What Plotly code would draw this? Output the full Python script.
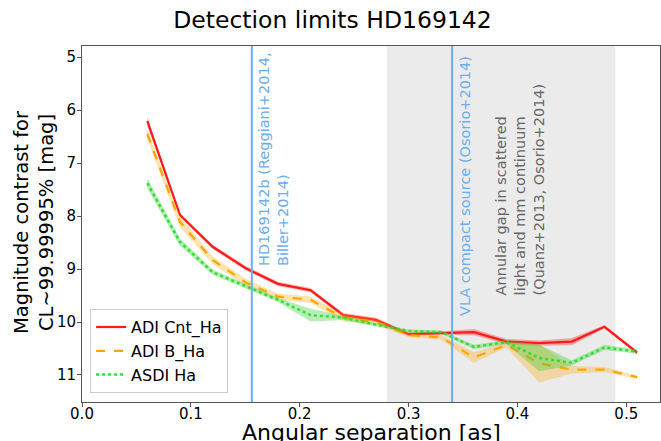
import plotly.graph_objects as go

# separation [as]
sep = [0.06, 0.09, 0.12, 0.15, 0.18, 0.21, 0.24, 0.27, 0.30, 0.33, 0.36, 0.39, 0.42, 0.45, 0.48, 0.51]

# contrast curves [mag] and half-width of the shaded bands
cnt_ha = [6.21, 7.98, 8.58, 8.98, 9.28, 9.40, 9.87, 9.96, 10.23, 10.21, 10.19, 10.37, 10.40, 10.37, 10.09, 10.58]
cnt_err = [0.08, 0.04, 0.04, 0.04, 0.04, 0.04, 0.04, 0.04, 0.03, 0.03, 0.06, 0.05, 0.05, 0.07, 0.03, 0.04]
b_ha = [6.45, 8.11, 8.83, 9.25, 9.52, 9.58, 9.92, 10.0, 10.25, 10.29, 10.67, 10.43, 10.78, 10.90, 10.90, 11.04]
b_err = [0.10, 0.10, 0.07, 0.07, 0.06, 0.06, 0.07, 0.05, 0.04, 0.04, 0.10, 0.05, 0.36, 0.07, 0.05, 0.03]
asdi_ha = [7.38, 8.49, 9.06, 9.32, 9.58, 9.87, 9.92, 10.05, 10.17, 10.19, 10.47, 10.38, 10.68, 10.77, 10.48, 10.56]
asdi_err = [0.10, 0.07, 0.05, 0.04, 0.04, 0.12, 0.04, 0.03, 0.03, 0.03, 0.04, 0.04, 0.25, 0.05, 0.05, 0.04]

planet_sep = 0.156
vla_sep = 0.34
gap = [0.28, 0.49]

series = [
    ("ADI Cnt_Ha", cnt_ha, cnt_err, "#ff1a1a", "solid", 2.2, "rgba(255,0,0,0.3)"),
    ("ADI B_Ha", b_ha, b_err, "#ffa500", "dash", 2.2, "rgba(255,165,0,0.3)"),
    ("ASDI Ha", asdi_ha, asdi_err, "#33dd33", "dot", 2.5, "rgba(50,205,50,0.35)"),
]

fig = go.Figure()

# gap region
fig.add_vrect(x0=gap[0], x1=gap[1], fillcolor="#ebebeb", line_width=0, layer="below")

for name, vals, err, col, dash, w, fill in series:
    lo = [v - e for v, e in zip(vals, err)]
    hi = [v + e for v, e in zip(vals, err)]
    fig.add_trace(go.Scatter(x=sep + sep[::-1], y=hi + lo[::-1], fill="toself",
                             fillcolor=fill, line=dict(width=0), mode="lines",
                             showlegend=False, hoverinfo="skip"))
    fig.add_trace(go.Scatter(x=sep, y=vals, mode="lines", name=name,
                             line=dict(color=col, dash=dash, width=w)))

blue = "#6aaef0"
for xv in (planet_sep, vla_sep):
    fig.add_vline(x=xv, line=dict(color=blue, width=2))

fig.add_annotation(x=planet_sep + 0.002, y=8.98, xref="x", yref="y",
                   text="HD169142b (Reggiani+2014,<br>Biller+2014)", textangle=-90,
                   xanchor="left", yanchor="bottom", align="left", showarrow=False,
                   font=dict(size=14.5, color=blue))
fig.add_annotation(x=vla_sep + 0.002, y=9.92, xref="x", yref="y",
                   text="VLA compact source (Osorio+2014)", textangle=-90,
                   xanchor="left", yanchor="bottom", align="left", showarrow=False,
                   font=dict(size=14.5, color=blue))
fig.add_annotation(x=0.376, y=9.53, xref="x", yref="y",
                   text="Annular gap in scattered<br>light and mm continuum<br>(Quanz+2013, Osorio+2014)",
                   textangle=-90, xanchor="left", yanchor="bottom", align="left", showarrow=False,
                   font=dict(size=14.5, color="#666666"))

# axis titles as annotations so they sit exactly where the original has them
fig.add_annotation(x=0.5, y=-0.087, xref="paper", yref="paper", text="Angular separation [as]",
                   xanchor="center", yanchor="middle", showarrow=False, font=dict(size=22))
fig.add_annotation(x=-0.084, y=0.507, xref="paper", yref="paper",
                   text="Magnitude contrast for<br>CL~99.99995% [mag]", textangle=-90,
                   xanchor="center", yanchor="middle", showarrow=False, font=dict(size=19.5))

axis_common = dict(showgrid=False, zeroline=False, showline=True, linecolor="#555555",
                   linewidth=1, mirror=True, ticks="outside", ticklen=4, tickcolor="#555555",
                   tickfont=dict(size=15, color="black"), automargin=False)

fig.update_layout(
    width=661, height=441,
    template="none",
    paper_bgcolor="white", plot_bgcolor="white",
    font=dict(family="DejaVu Sans", color="black"),
    margin=dict(l=82, r=1, t=46, b=39),
    title=dict(text="Detection limits HD169142", x=0.503, xanchor="center",
               y=0.955, yanchor="middle", font=dict(size=23.5)),
    xaxis=dict(range=[0, 0.531], tickvals=[0, 0.1, 0.2, 0.3, 0.4, 0.5],
               ticktext=["0.0", "0.1", "0.2", "0.3", "0.4", "0.5"],
               ticklabelstandoff=-6,
               **axis_common),
    yaxis=dict(range=[11.51, 4.79], tickvals=[5, 6, 7, 8, 9, 10, 11],
               ticklabelstandoff=-2,
               **axis_common),
    legend=dict(x=0.014, y=0.025, xanchor="left", yanchor="bottom",
                bgcolor="rgba(255,255,255,0.85)", bordercolor="#cccccc", borderwidth=1,
                font=dict(size=16)),
)

# drop the default page margin so the figure fills the window exactly
fig.write_html("out.html", config={"displayModeBar": False},
               post_script="document.body.style.margin='0px';")
